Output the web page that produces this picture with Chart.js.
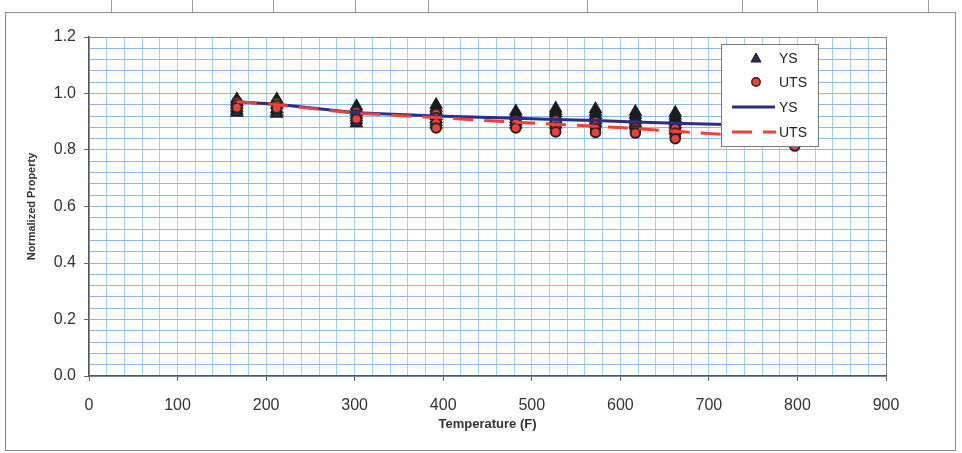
<!DOCTYPE html>
<html>
<head>
<meta charset="utf-8">
<script src="https://cdn.jsdelivr.net/npm/chart.js@4.4.1/dist/chart.umd.min.js"></script>
<style>
  body { margin: 0; background: #fff; }
  #wrap { position: relative; width: 962px; height: 453px; }
  #frame { position: absolute; left: 5px; top: 12px; width: 949px; height: 437px; border: 1px solid #8c8c8c; pointer-events: none; }
  .cell { position: absolute; top: 0; width: 1px; height: 12px; background: #9a9a9a; }
</style>
</head>
<body>
<div id="wrap">
  <canvas id="myChart" width="962" height="453"></canvas>
  <div id="frame"></div>
</div>
<script>
'use strict';

// test temperatures (F)
const temps = [167, 212, 302, 392, 482, 527, 572, 617, 662, 797];

// individual normalized yield strength results per temperature
const ysPoints = [
  [0.98, 0.97, 0.96, 0.95, 0.94, 0.932],
  [0.98, 0.97, 0.96, 0.945, 0.935, 0.928],
  [0.955, 0.945, 0.935, 0.925, 0.915, 0.905, 0.895],
  [0.96, 0.95, 0.94, 0.93, 0.92, 0.91, 0.9, 0.89],
  [0.937, 0.928, 0.92, 0.91, 0.9, 0.89],
  [0.947, 0.938, 0.93, 0.92, 0.91, 0.9, 0.89],
  [0.945, 0.935, 0.925, 0.915, 0.905, 0.895],
  [0.935, 0.925, 0.915, 0.905, 0.895, 0.888],
  [0.932, 0.922, 0.912, 0.9, 0.89, 0.88, 0.87],
  [0.88, 0.86, 0.845]
];

// individual normalized tensile strength results per temperature
const utsPoints = [
  [0.97, 0.96, 0.95],
  [0.968, 0.958, 0.948],
  [0.935, 0.924, 0.91],
  [0.928, 0.915, 0.895, 0.878],
  [0.905, 0.894, 0.878],
  [0.905, 0.894, 0.88, 0.864],
  [0.9, 0.886, 0.876, 0.862],
  [0.89, 0.878, 0.868, 0.86],
  [0.876, 0.86, 0.85, 0.84],
  [0.83, 0.814]
];

// trend lines
const ysTrend = [0.971, 0.962, 0.932, 0.920, 0.912, 0.908, 0.904, 0.899, 0.895, 0.884];
const utsTrend = [0.971, 0.960, 0.930, 0.915, 0.898, 0.891, 0.884, 0.876, 0.866, 0.840];

const xTicks = [0, 100, 200, 300, 400, 500, 600, 700, 800, 900];
const yTicks = [0.0, 0.2, 0.4, 0.6, 0.8, 1.0, 1.2];

const topCells = [111, 192, 273, 355, 428, 587, 742, 817, 928];
for (let i = 0; i < topCells.length; i++) {
  let d = document.createElement('div');
  d.className = 'cell';
  d.style.left = topCells[i] + 'px';
  document.getElementById('wrap').appendChild(d);
}

function spread(xs, groups) {
  let out = [];
  for (let i = 0; i < xs.length; i++) {
    for (let j = 0; j < groups[i].length; j++) out.push({ x: xs[i], y: groups[i][j] });
  }
  return out;
}
function pairs(xs, ys) {
  return xs.map((x, i) => ({ x: x, y: ys[i] }));
}

const NAVY = '#2b2d86';
const RED = '#f0403a';
const FONT = "'Liberation Sans', Arial, sans-serif";

const isMajorY = v => yTicks.some(t => Math.abs(t - v) < 1e-6);
const isMajorX = v => xTicks.indexOf(Math.round(v)) !== -1 && Math.abs(v - Math.round(v)) < 1e-6;

// legend drawn inside the plot, on top of the data like the original
const legendBox = {
  id: 'legendBox',
  afterDraw(chart) {
    const c = chart.ctx;
    const x0 = 721, y0 = 44, w = 97, h = 102;
    c.save();
    c.fillStyle = '#fff';
    c.fillRect(x0, y0, w, h);
    c.strokeStyle = '#7a7a7a';
    c.lineWidth = 1;
    c.strokeRect(x0 + 0.5, y0 + 0.5, w, h);

    const rows = [58, 82, 107, 132];
    const mx = 756;
    // YS marker
    c.beginPath();
    c.moveTo(mx, rows[0] - 5);
    c.lineTo(mx + 5, rows[0] + 4);
    c.lineTo(mx - 5, rows[0] + 4);
    c.closePath();
    c.fillStyle = '#262a5e';
    c.fill();
    c.strokeStyle = '#1b1b1b';
    c.stroke();
    // UTS marker
    c.beginPath();
    c.arc(mx, rows[1], 4.2, 0, Math.PI * 2);
    c.fillStyle = RED;
    c.fill();
    c.strokeStyle = '#3a2323';
    c.lineWidth = 1.5;
    c.stroke();
    // YS line
    c.beginPath();
    c.moveTo(732, rows[2]);
    c.lineTo(775, rows[2]);
    c.strokeStyle = NAVY;
    c.lineWidth = 3;
    c.stroke();
    // UTS line
    c.beginPath();
    c.setLineDash([20, 11]);
    c.moveTo(732, rows[3]);
    c.lineTo(776, rows[3]);
    c.strokeStyle = RED;
    c.stroke();
    c.setLineDash([]);

    c.fillStyle = '#222';
    c.font = '14px ' + FONT;
    c.textBaseline = 'middle';
    const names = ['YS', 'UTS', 'YS', 'UTS'];
    for (let i = 0; i < 4; i++) c.fillText(names[i], 779, rows[i] + 1);
    c.restore();
  }
};

let ctx = document.getElementById('myChart').getContext('2d');

new Chart(ctx, {
  type: 'scatter',
  data: {
    datasets: [
      {
        label: 'UTS',
        data: pairs(temps, utsTrend),
        showLine: true,
        borderColor: RED,
        borderWidth: 3,
        borderDash: [20, 11],
        pointRadius: 0,
        fill: false,
        order: 0
      },
      {
        label: 'YS',
        data: pairs(temps, ysTrend),
        showLine: true,
        borderColor: NAVY,
        borderWidth: 3,
        pointRadius: 0,
        fill: false,
        order: 1
      },
      {
        label: 'UTS',
        data: spread(temps, utsPoints),
        pointStyle: 'circle',
        pointRadius: 4.8,
        backgroundColor: RED,
        borderColor: '#2e2222',
        borderWidth: 2,
        order: 2
      },
      {
        label: 'YS',
        data: spread(temps, ysPoints),
        pointStyle: 'triangle',
        pointRadius: 6.5,
        backgroundColor: '#262a5e',
        borderColor: '#1b1b1b',
        borderWidth: 1.5,
        order: 3
      }
    ]
  },
  options: {
    responsive: false,
    animation: false,
    devicePixelRatio: 1,
    layout: { padding: { left: 0, top: 37, right: 76, bottom: 0 } },
    plugins: {
      legend: { display: false },
      tooltip: { enabled: false }
    },
    scales: {
      x: {
        type: 'linear',
        min: 0,
        max: 900,
        afterFit: s => { s.height = 77; },
        ticks: {
          stepSize: 20,
          autoSkip: false,
          maxRotation: 0,
          padding: 15,
          color: '#333',
          font: { family: FONT, size: 16 },
          callback: v => (isMajorX(v) ? String(v) : '')
        },
        grid: {
          color: c => (c.tick && c.tick.value === 900 ? '#8c8c8c' : '#9fd2f3'),
          tickColor: c => (c.tick && isMajorX(c.tick.value) ? '#666' : 'rgba(0,0,0,0)'),
          tickLength: 5,
          lineWidth: 1
        },
        border: { color: '#555', width: 1.5 },
        title: {
          display: true,
          text: 'Temperature (F)',
          color: '#333',
          font: { family: FONT, size: 13, weight: 'bold' },
          padding: { top: 0, bottom: 21 }
        }
      },
      y: {
        min: 0,
        max: 1.2,
        afterFit: s => { s.width = 89; },
        ticks: {
          stepSize: 0.04,
          autoSkip: false,
          padding: 8,
          color: '#333',
          font: { family: FONT, size: 16 },
          callback: v => (isMajorY(v) ? v.toFixed(1) : '')
        },
        grid: {
          color: c => (c.tick && Math.abs(c.tick.value - 1.2) < 1e-6 ? '#8c8c8c' : '#8fb8e8'),
          tickColor: c => (c.tick && isMajorY(c.tick.value) ? '#666' : 'rgba(0,0,0,0)'),
          tickLength: 5,
          lineWidth: 1
        },
        border: { color: '#555', width: 1.5 },
        title: {
          display: true,
          text: 'Normalized Property',
          color: '#333',
          font: { family: FONT, size: 11, weight: 'bold' },
          padding: { top: 25, bottom: 0 }
        }
      }
    }
  },
  plugins: [legendBox]
});
</script>
</body>
</html>
